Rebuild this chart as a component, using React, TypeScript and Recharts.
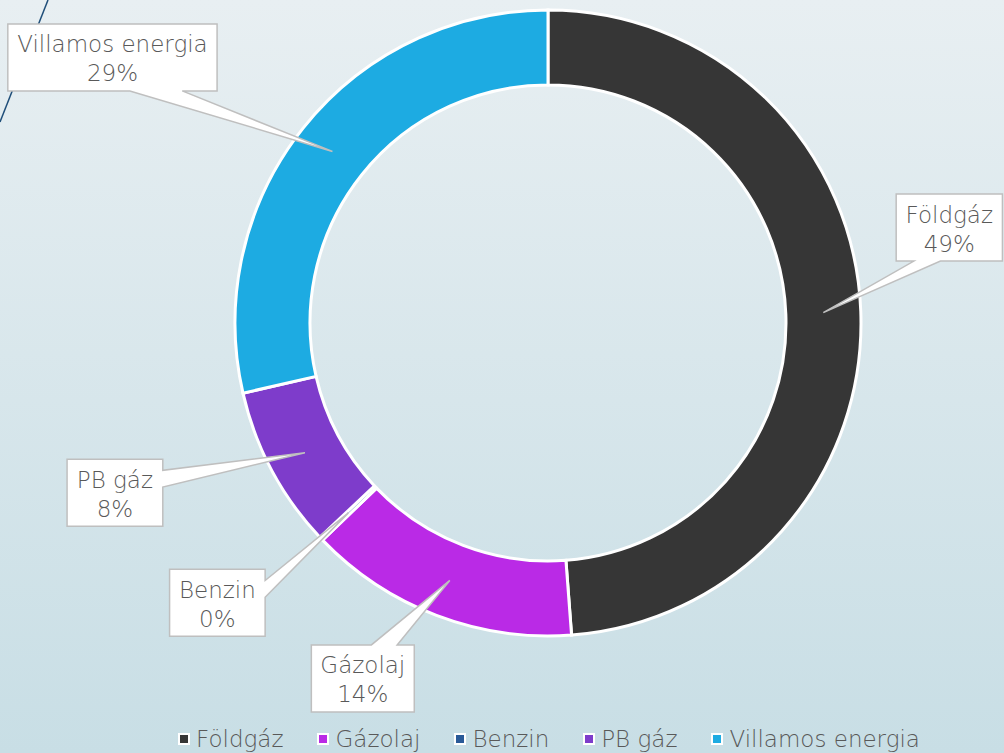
import { PieChart, Pie, Cell, Legend } from "recharts";

const names = ["Földgáz", "Gázolaj", "Benzin", "PB gáz", "Villamos energia"];
const shares = [48.8, 14.0, 0.2, 8.4, 28.6];
const colors = ["#363636", "#BA2AE6", "#2A5A98", "#7E3CCB", "#1DABE2"];

// where each callout box sits, relative to the point it points at
const calloutOffsets: [number, number][] = [
  [126, -85],
  [-87, 98],
  [-131, 90],
  [-190, 40],
  [-220, -94],
];

const data = names.map((name, i) => ({ name, value: shares[i] }));

const FONT = "DejaVu Sans";
const FONT_SIZE = 23;
const TEXT = "#595959";

let ctx: CanvasRenderingContext2D | null = null;
const measure = (s: string) => {
  if (!ctx) ctx = document.createElement("canvas").getContext("2d");
  if (!ctx) return s.length * FONT_SIZE * 0.55;
  ctx.font = `${FONT_SIZE}px "${FONT}"`;
  return ctx.measureText(s).width;
};

const RAD = Math.PI / 180;

const Callout = (props: any) => {
  const { cx, cy, midAngle, innerRadius, outerRadius, percent, index, name } = props;
  const r = (Number(innerRadius) + Number(outerRadius)) / 2;
  const tx = Number(cx) + r * Math.cos(-midAngle * RAD);
  const ty = Number(cy) + r * Math.sin(-midAngle * RAD);
  const [ox, oy] = calloutOffsets[index];
  const bx = tx + ox;
  const by = ty + oy;
  const pct = `${Math.round(percent * 100)}%`;
  const w = Math.max(measure(name), measure(pct)) + 18;
  const h = 67;
  const x0 = bx - w / 2, x1 = bx + w / 2, y0 = by - h / 2, y1 = by + h / 2;
  const dx = tx - bx, dy = ty - by;

  // wedge callout, base sits on the edge facing the tip
  let d = "";
  if (Math.abs(dx / w) > Math.abs(dy / h)) {
    const f = dy > 0 ? [7 / 12, 10 / 12] : [2 / 12, 5 / 12];
    const a = y0 + h * f[0], b = y0 + h * f[1];
    if (dx > 0) {
      d = `M${x0},${y0} L${x1},${y0} L${x1},${a} L${tx},${ty} L${x1},${b} L${x1},${y1} L${x0},${y1} Z`;
    } else {
      d = `M${x0},${y0} L${x1},${y0} L${x1},${y1} L${x0},${y1} L${x0},${b} L${tx},${ty} L${x0},${a} Z`;
    }
  } else {
    const f = dx > 0 ? [7 / 12, 10 / 12] : [2 / 12, 5 / 12];
    const a = x0 + w * f[0], b = x0 + w * f[1];
    if (dy > 0) {
      d = `M${x0},${y0} L${x1},${y0} L${x1},${y1} L${b},${y1} L${tx},${ty} L${a},${y1} L${x0},${y1} Z`;
    } else {
      d = `M${x0},${y0} L${a},${y0} L${tx},${ty} L${b},${y0} L${x1},${y0} L${x1},${y1} L${x0},${y1} Z`;
    }
  }

  return (
    <g>
      <path d={d} fill="#fff" stroke="#BFBFBF" strokeWidth={1.5} strokeLinejoin="miter" />
      <text x={bx} y={by - 5} textAnchor="middle" fontFamily={FONT} fontSize={FONT_SIZE} fontWeight={300} fill={TEXT}>
        {name}
      </text>
      <text x={bx} y={by + 24} textAnchor="middle" fontFamily={FONT} fontSize={FONT_SIZE} fontWeight={300} fill={TEXT}>
        {pct}
      </text>
    </g>
  );
};

const LegendContent = () => (
  <div
    style={{
      display: "flex",
      justifyContent: "center",
      gap: 34,
      fontFamily: FONT,
      fontSize: FONT_SIZE,
      fontWeight: 300,
      color: TEXT,
      lineHeight: "30px",
    }}
  >
    {names.map((n, i) => (
      <div key={n} style={{ display: "flex", alignItems: "center", gap: 6 }}>
        <span
          style={{
            display: "inline-block",
            width: 12,
            height: 12,
            boxSizing: "border-box",
            border: "2px solid #fff",
            background: colors[i],
          }}
        />
        <span>{n}</span>
      </div>
    ))}
  </div>
);

export default function App() {
  return (
    <div
      style={{
        position: "absolute",
        left: 0,
        top: 0,
        width: 1004,
        height: 753,
        overflow: "hidden",
        background: "linear-gradient(to bottom, #E8EFF2 0%, #C8DEE5 100%)",
      }}
    >
      <svg width={1004} height={753} style={{ position: "absolute", left: 0, top: 0 }}>
        <line x1={48} y1={0} x2={0} y2={122} stroke="#1F4E79" strokeWidth={1.5} />
      </svg>
      <PieChart
        width={1004}
        height={753}
        margin={{ top: 0, right: 0, bottom: 0, left: 0 }}
        style={{ position: "absolute", left: 0, top: 0 }}
      >
        <Pie
          data={data}
          dataKey="value"
          nameKey="name"
          cx={548}
          cy={323}
          innerRadius={238}
          outerRadius={313}
          startAngle={90}
          endAngle={-270}
          stroke="#fff"
          strokeWidth={3}
          label={Callout}
          labelLine={false}
          isAnimationActive={false}
        >
          {data.map((d, i) => (
            <Cell key={d.name} fill={colors[i]} />
          ))}
        </Pie>
        <Legend
          content={<LegendContent />}
          wrapperStyle={{ left: 47, top: 724, width: 1004, height: 30 }}
        />
      </PieChart>
    </div>
  );
}
